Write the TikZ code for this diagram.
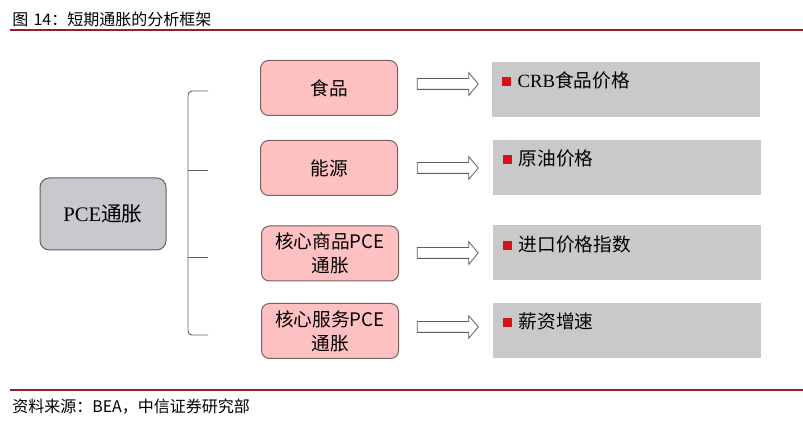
\documentclass[tikz,border=0pt]{standalone}
\usepackage{fontspec}
\setmainfont{Noto Sans CJK SC}
\newfontfamily\serifpart{Liberation Serif}
\usepackage{tikz}
\usetikzlibrary{shapes.arrows,positioning}
\definecolor{rulered}{RGB}{158,28,32}
\definecolor{pinkfill}{RGB}{255,192,194}
\definecolor{pinkedge}{RGB}{118,98,98}
\definecolor{greyfill}{RGB}{201,201,203}
\definecolor{rootfill}{RGB}{201,200,205}
\definecolor{edgegrey}{RGB}{95,95,95}
\definecolor{bulletred}{RGB}{212,18,28}
\newcommand{\redsq}{\textcolor{bulletred}{\rule[1.2pt]{6.75pt}{6.75pt}}\hspace{5pt}}

\begin{document}
\begin{tikzpicture}[x=0.75pt,y=-0.75pt,
  titletext/.style={anchor=west,inner sep=0pt,font=\fontsize{12}{14}\selectfont},
  titlerule/.style={draw=rulered,line width=0.8pt},
  rootbox/.style={draw=edgegrey,fill=rootfill,rounded corners=7pt,line width=0.75pt,
    minimum width=94.5pt,minimum height=54pt,font=\fontsize{15.5}{18}\selectfont},
  pinkbox/.style={draw=pinkedge,fill=pinkfill,rounded corners=6pt,line width=0.75pt,
    minimum width=102.75pt,minimum height=41.25pt,align=center,font=\fontsize{14}{18}\selectfont},
  greybox/.style={fill=greyfill,minimum width=201pt,minimum height=41.25pt},
  itemtext/.style={anchor=west,inner sep=0pt,font=\fontsize{14}{16}\selectfont},
  blockarrow/.style={shape=single arrow,draw=edgegrey,fill=white,line width=0.6pt,
    minimum height=45.75pt,inner xsep=0pt,inner ysep=3.75pt,text height=0pt,text depth=0pt,
    single arrow head extend=4.5pt,single arrow tip angle=100},
  bracket/.style={draw=edgegrey,line width=0.7pt}]
\useasboundingbox (0,0) rectangle (803,427);

\node[titletext] (title) at (12,19) {图\hspace{4pt}14：短期通胀的分析框架};
\draw[titlerule] (10,30) -- (803,30);

\node[rootbox] (pce) at (103,214) {{\serifpart PCE}通胀};

\draw[bracket,rounded corners=3pt] (208,91) -- (188,91) -- (188,335) -- (208,335);
\foreach \ty in {170,257}
  \draw[bracket] (188,\ty) -- (208,\ty);

\node[pinkbox] (food) at (329,88) {食品};
\node[pinkbox] (energy) at (329,168) {能源};
\node[pinkbox] (coregoods) at (330,253.5) {核心商品PCE\\通胀};
\node[pinkbox] (coreserv) at (330,331) {核心服务PCE\\通胀};

\node[blockarrow] (arrfood) at (445.5,84) {};
\node[blockarrow] (arrenergy) at (445.5,168) {};
\node[blockarrow] (arrgoods) at (445.5,253) {};
\node[blockarrow] (arrserv) at (445.5,327) {};

\node[greybox] (crb) at (626,89.5) {};
\node[greybox] (oil) at (627,167.5) {};
\node[greybox] (import) at (627,253) {};
\node[greybox] (wage) at (627,330.5) {};

\node[itemtext] (crbtext) at ([xshift=7.5pt,yshift=-14.25pt]crb.north west) {\redsq{\serifpart CRB}食品价格};
\node[itemtext] (oiltext) at ([xshift=7.5pt,yshift=-14.25pt]oil.north west) {\redsq 原油价格};
\node[itemtext] (importtext) at ([xshift=7.5pt,yshift=-14.25pt]import.north west) {\redsq 进口价格指数};
\node[itemtext] (wagetext) at ([xshift=7.5pt,yshift=-14.25pt]wage.north west) {\redsq 薪资增速};

\draw[titlerule] (10,390) -- (803,390);
\node[titletext] (source) at (12,407) {资料来源：BEA，中信证券研究部};
\end{tikzpicture}
\end{document}
